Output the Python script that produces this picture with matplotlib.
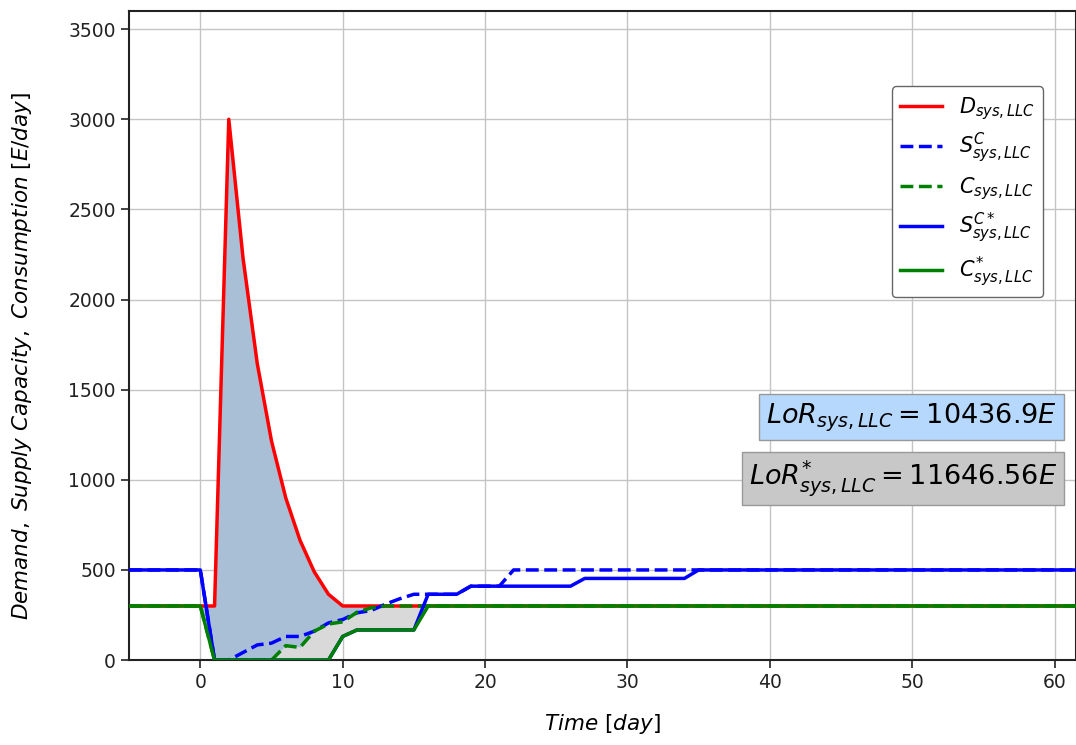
import numpy as np
import matplotlib
matplotlib.use("Agg")
import matplotlib.pyplot as plt

# knot days (every series is piecewise linear between these)
days = [-5, 0, 1, 2, 3, 4, 5, 6, 7, 8, 9, 10, 11, 12, 13, 14, 15, 16, 18, 19, 21, 22, 26, 27, 34, 35, 62]

demand = [300, 300, 300, 3000, 2230, 1645, 1215, 900, 665, 490, 365, 300, 300, 300, 300, 300, 300,
          300, 300, 300, 300, 300, 300, 300, 300, 300, 300]
supply = [500, 500, 0, 0, 42, 84, 94, 131, 131, 160, 206, 225, 262, 275, 310, 340, 365,
          365, 365, 410, 410, 500, 500, 500, 500, 500, 500]
consum = [300, 300, 0, 0, 0, 0, 0, 80, 70, 160, 200, 212, 265, 290, 300, 300, 300,
          300, 300, 300, 300, 300, 300, 300, 300, 300, 300]
supply_star = [500, 500, 0, 0, 0, 0, 0, 0, 0, 0, 0, 131, 167, 167, 167, 167, 167,
               365, 365, 410, 410, 410, 410, 453, 453, 500, 500]
consum_star = [300, 300, 0, 0, 0, 0, 0, 0, 0, 0, 0, 131, 167, 167, 167, 167, 167,
               300, 300, 300, 300, 300, 300, 300, 300, 300, 300]

lor = "$LoR_{sys,LLC} = 10436.9E$"
lor_star = "$LoR^{*}_{sys,LLC} = 11646.56E$"

t = np.array(days)
D = np.array(demand)
C = np.array(consum)
Cs = np.array(consum_star)

fig = plt.figure(figsize=(10.76, 7.45), dpi=100)
ax = fig.add_axes([0.12, 0.114, 0.88, 0.871])

# shaded losses
ax.fill_between(t, D, C, where=D >= C, interpolate=True, color="#a9bfd6", lw=0, zorder=1)
ax.fill_between(t, C, Cs, where=C >= Cs, interpolate=True, color="#d9d9d9", lw=0, zorder=1)

lw = 2.5
ax.plot(t, D, color="red", lw=lw, label="$D_{sys,LLC}$", zorder=2)
ax.plot(t, supply, color="blue", lw=lw, ls="--", label="$S^{C}_{sys,LLC}$", zorder=3)
ax.plot(t, C, color="green", lw=lw, ls="--", label="$C_{sys,LLC}$", zorder=3)
ax.plot(t, supply_star, color="blue", lw=lw, label="$S^{C*}_{sys,LLC}$", zorder=4)
ax.plot(t, Cs, color="green", lw=lw, label="$C^{*}_{sys,LLC}$", zorder=5)

ax.set_xlim(-5, 61.5)
ax.set_ylim(0, 3600)
ax.set_xticks(range(0, 61, 10))
ax.set_yticks(range(0, 3501, 500))
ax.grid(True, color="#c4c4c4", lw=1)
ax.set_axisbelow(True)
ax.tick_params(labelsize=13.5, length=6, width=1.2, direction="out", colors="#222222")
for s in ax.spines.values():
    s.set_color("#222222")
    s.set_linewidth(1.5)

ax.set_xlabel(r"$Time\ [day]$", fontsize=15.5, labelpad=14)
ax.set_ylabel(r"$Demand,\ Supply\ Capacity,\ Consumption\ [E/day]$", fontsize=15.5)
ax.yaxis.set_label_coords(-0.1, 0.468)

leg = ax.legend(loc="upper right", bbox_to_anchor=(0.965, 0.884), borderaxespad=0, fontsize=15,
                labelspacing=0.45, handlelength=2.0, fancybox=True, framealpha=1,
                edgecolor="#666666")

ax.text(0.98, 0.374, lor, transform=ax.transAxes, ha="right", va="center", fontsize=19.5,
        bbox=dict(boxstyle="square,pad=0.25", facecolor="#b5d8fc", edgecolor="#999999"))
ax.text(0.98, 0.28, lor_star, transform=ax.transAxes, ha="right", va="center", fontsize=19.5,
        bbox=dict(boxstyle="square,pad=0.25", facecolor="#c8c8c8", edgecolor="#999999"))

fig.savefig("out.png", dpi=100)
